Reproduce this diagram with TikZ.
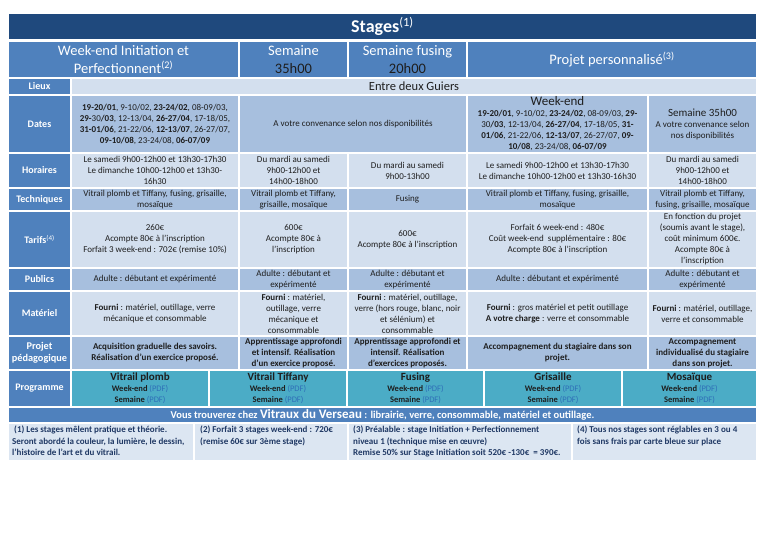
\documentclass[tikz,border=0pt]{standalone}
\usepackage{fontspec}
\setmainfont{Carlito}
\usetikzlibrary{positioning,calc}
\usepackage{xcolor}
\definecolor{mnavy}{HTML}{1F497D}
\definecolor{mblue}{HTML}{4F81BD}
\definecolor{mlite}{HTML}{D3DFEE}
\definecolor{mmid}{HTML}{A7BFDE}
\definecolor{mteal}{HTML}{4BACC6}
\definecolor{mfoot}{HTML}{DCE6F2}
\definecolor{mtext}{HTML}{1E1E1E}
\definecolor{mlink}{HTML}{2F6FB8}
\definecolor{mnote}{HTML}{1F3864}
\tikzstyle{box}=[draw=white, line width=1.2pt, outer sep=0pt, inner sep=0pt, align=center, anchor=north west, text=mtext, font=\fontsize{9}{11}\selectfont]
\tikzstyle{lab}=[box, fill=mblue, text=white, font=\fontsize{10}{12}\selectfont\bfseries]
\tikzstyle{head}=[box, fill=mblue, text=white, font=\fontsize{14.5}{18}\selectfont]
\tikzstyle{lite}=[box, fill=mlite]
\tikzstyle{mid}=[box, fill=mmid]
\tikzstyle{midb}=[mid, font=\fontsize{9}{11}\selectfont\bfseries]
\tikzstyle{prog}=[box, fill=mteal, font=\fontsize{8.5}{11}\selectfont\bfseries]
\tikzstyle{foot}=[box, fill=mfoot]
\tikzstyle{note}=[inner sep=0pt, align=left, text=mnote, font=\fontsize{9}{11.2}\selectfont\bfseries]
% name, style, x1, y1, x2, y2, text
\newcommand{\tcell}[7]{%
  \pgfmathsetmacro\cellw{#5-#3}\pgfmathsetmacro\cellh{#6-#4}%
  \node[#2, minimum width=\cellw pt, minimum height=\cellh pt] (#1) at (#3,#4) {#7};}
\newcommand{\pdflink}{{\mdseries\color{mlink}(PDF)}}
\newcommand{\ctitle}[1]{{\fontsize{11}{13}\selectfont #1}}

\begin{document}
\begin{tikzpicture}[x=1pt, y=-1pt]
    \useasboundingbox (0,0) rectangle (768,543);

    \tcell{title}{box, fill=mnavy, text=white, font=\fontsize{18}{20}\selectfont\bfseries}{8}{13}{757}{40}{Stages\textsuperscript{\mdseries(1)}}

    \tcell{hwe}{head}{8}{41}{239}{78}{Week-end Initiation et\\Perfectionnent\textsuperscript{(2)}}
    \tcell{hse}{head}{239}{41}{348}{78}{Semaine\\\color{mtext}35h00}
    \tcell{hfu}{head}{348}{41}{467}{78}{Semaine fusing\\\color{mtext}20h00}
    \tcell{hpp}{head}{467}{41}{757}{78}{Projet personnalisé\textsuperscript{(3)}}

    % labels
    \tcell{llieu}{lab}{8}{78}{71}{95}{Lieux}
    \tcell{ldate}{lab}{8}{95}{71}{153}{Dates}
    \tcell{lhor}{lab}{8}{153}{71}{188}{Horaires}
    \tcell{ltech}{lab}{8}{188}{71}{211}{Techniques}
    \tcell{ltar}{lab}{8}{211}{71}{268}{Tarifs\textsuperscript{\mdseries(4)}}
    \tcell{lpub}{lab}{8}{268}{71}{291}{Publics}
    \tcell{lmat}{lab}{8}{291}{71}{336}{Matériel}
    \tcell{lproj}{lab, font=\fontsize{10.3}{12}\selectfont\bfseries}{8}{336}{71}{370}{Projet\\pédagogique}
    \tcell{lprog}{lab}{8}{370}{71}{407}{Programme}

    \tcell{lieu}{lite, font=\fontsize{12.5}{14}\selectfont}{71}{78}{757}{95}{Entre deux Guiers}

    \tcell{date1}{mid}{71}{95}{239}{153}{\textbf{19-20/01}, 9-10/02, \textbf{23-24/02}, 08-09/03,\\\textbf{29-}30\textbf{/03}, 12-13/04, \textbf{26-27/04}, 17-18/05,\\\textbf{31-01/06}, 21-22/06, \textbf{12-13/07}, 26-27/07,\\\textbf{09-10/08}, 23-24/08, \textbf{06-07/09}}
    \tcell{date23}{mid}{239}{95}{467}{153}{A votre convenance selon nos disponibilités}
    \tcell{date4}{mid}{467}{95}{648}{153}{{\fontsize{13}{12}\selectfont Week-end}\\\textbf{19-20/01}, 9-10/02, \textbf{23-24/02}, 08-09/03, \textbf{29-}\\30\textbf{/03}, 12-13/04, \textbf{26-27/04}, 17-18/05, \textbf{31-}\\\textbf{01/06}, 21-22/06, \textbf{12-13/07}, 26-27/07, \textbf{09-}\\\textbf{10/08}, 23-24/08, \textbf{06-07/09}}
    \tcell{date5}{mid}{648}{95}{757}{153}{\ctitle{Semaine 35h00}\\A votre convenance selon\\nos disponibilités}

    \tcell{hor1}{lite}{71}{153}{239}{188}{Le samedi 9h00-12h00 et 13h30-17h30\\Le dimanche 10h00-12h00 et 13h30-\\16h30}
    \tcell{hor2}{lite}{239}{153}{348}{188}{Du mardi au samedi\\9h00-12h00 et\\14h00-18h00}
    \tcell{hor3}{lite}{348}{153}{467}{188}{Du mardi au samedi\\9h00-13h00}
    \tcell{hor4}{lite}{467}{153}{648}{188}{Le samedi 9h00-12h00 et 13h30-17h30\\Le dimanche 10h00-12h00 et 13h30-16h30}
    \tcell{hor5}{lite}{648}{153}{757}{188}{Du mardi au samedi\\9h00-12h00 et\\14h00-18h00}

    \tcell{tech1}{mid}{71}{188}{239}{211}{Vitrail plomb et Tiffany, fusing, grisaille,\\mosaïque}
    \tcell{tech2}{mid}{239}{188}{348}{211}{Vitrail plomb et Tiffany,\\grisaille, mosaïque}
    \tcell{tech3}{mid}{348}{188}{467}{211}{Fusing}
    \tcell{tech4}{mid}{467}{188}{648}{211}{Vitrail plomb et Tiffany, fusing, grisaille,\\mosaïque}
    \tcell{tech5}{mid}{648}{188}{757}{211}{Vitrail plomb et Tiffany,\\fusing, grisaille, mosaïque}

    \tcell{tar1}{lite}{71}{211}{239}{268}{260€\\Acompte 80€ à l’inscription\\Forfait 3 week-end : 702€ (remise 10\%)}
    \tcell{tar2}{lite}{239}{211}{348}{268}{600€\\Acompte 80€ à\\l’inscription}
    \tcell{tar3}{lite}{348}{211}{467}{268}{600€\\Acompte 80€ à l’inscription}
    \tcell{tar4}{lite}{467}{211}{648}{268}{Forfait 6 week-end : 480€\\Coût week-end~ supplémentaire : 80€\\Acompte 80€ à l’inscription}
    \tcell{tar5}{lite}{648}{211}{757}{268}{En fonction du projet\\(soumis avant le stage),\\coût minimum 600€.\\Acompte 80€ à\\l’inscription}

    \tcell{pub1}{mid}{71}{268}{239}{291}{Adulte : débutant et expérimenté}
    \tcell{pub2}{mid}{239}{268}{348}{291}{Adulte : débutant et\\expérimenté}
    \tcell{pub3}{mid}{348}{268}{467}{291}{Adulte : débutant et\\expérimenté}
    \tcell{pub4}{mid}{467}{268}{648}{291}{Adulte : débutant et expérimenté}
    \tcell{pub5}{mid}{648}{268}{757}{291}{Adulte : débutant et\\expérimenté}

    \tcell{mat1}{lite}{71}{291}{239}{336}{\textbf{Fourni} : matériel, outillage, verre\\mécanique et consommable}
    \tcell{mat2}{lite}{239}{291}{348}{336}{\textbf{Fourni} : matériel,\\outillage, verre\\mécanique et\\consommable}
    \tcell{mat3}{lite}{348}{291}{467}{336}{\textbf{Fourni} : matériel, outillage,\\verre (hors rouge, blanc, noir\\et sélénium) et\\consommable}
    \tcell{mat4}{lite}{467}{291}{648}{336}{\textbf{Fourni} : gros matériel et petit outillage\\\textbf{A votre charge} : verre et consommable}
    \tcell{mat5}{lite}{648}{291}{757}{336}{\textbf{Fourni} : matériel, outillage,\\verre et consommable}

    \tcell{proj1}{midb}{71}{336}{239}{370}{Acquisition graduelle des savoirs.\\Réalisation d’un exercice proposé.}
    \tcell{proj2}{midb}{239}{336}{348}{370}{Apprentissage approfondi\\et intensif. Réalisation\\d’un exercice proposé.}
    \tcell{proj3}{midb}{348}{336}{467}{370}{Apprentissage approfondi et\\intensif. Réalisation\\d’exercices proposés.}
    \tcell{proj4}{midb}{467}{336}{648}{370}{Accompagnement du stagiaire dans son\\projet.}
    \tcell{proj5}{midb}{648}{336}{757}{370}{Accompagnement\\individualisé du stagiaire\\dans son projet.}

    \tcell{prog1}{prog}{71}{370}{209}{407}{\ctitle{Vitrail plomb}\\Week-end \pdflink\\Semaine \pdflink}
    \tcell{prog2}{prog}{209}{370}{347}{407}{\ctitle{Vitrail Tiffany}\\Week-end \pdflink\\Semaine \pdflink}
    \tcell{prog3}{prog}{347}{370}{484}{407}{\ctitle{Fusing}\\Week-end \pdflink\\Semaine \pdflink}
    \tcell{prog4}{prog}{484}{370}{622}{407}{\ctitle{Grisaille}\\Week-end \pdflink\\Semaine \pdflink}
    \tcell{prog5}{prog}{622}{370}{757}{407}{\ctitle{Mosaïque}\\Week-end \pdflink\\Semaine \pdflink}

    \tcell{vous}{box, fill=mblue, text=white, font=\fontsize{10.5}{12}\selectfont\bfseries}{8}{407}{757}{423}{Vous trouverez chez {\fontsize{13}{14}\selectfont Vitraux du Verseau} : librairie, verre, consommable, matériel et outillage.}

    \tcell{f1}{foot}{8}{423}{194}{461}{}
    \tcell{f2}{foot}{194}{423}{348}{461}{}
    \tcell{f3}{foot}{348}{423}{572}{461}{}
    \tcell{f4}{foot}{572}{423}{757}{461}{}
    \node[note, below right=3pt and 4pt of f1.north west] (n1) {~(1) Les stages mêlent pratique et théorie.\\Seront abordé la couleur, la lumière, le dessin,\\l’histoire de l’art et du vitrail.};
    \node[note, below right=3pt and 6pt of f2.north west] (n2) {(2) Forfait 3 stages week-end : 720€\\(remise 60€ sur 3ème stage)};
    \node[note, below right=3pt and 5pt of f3.north west] (n3) {(3) Préalable : stage Initiation + Perfectionnement\\niveau 1 (technique mise en œuvre)\\Remise 50\% sur Stage Initiation soit 520€ -130€~ = 390€.};
    \node[note, below right=3pt and 5pt of f4.north west] (n4) {(4) Tous nos stages sont réglables en 3 ou 4\\fois sans frais par carte bleue sur place};

\end{tikzpicture}
\end{document}
